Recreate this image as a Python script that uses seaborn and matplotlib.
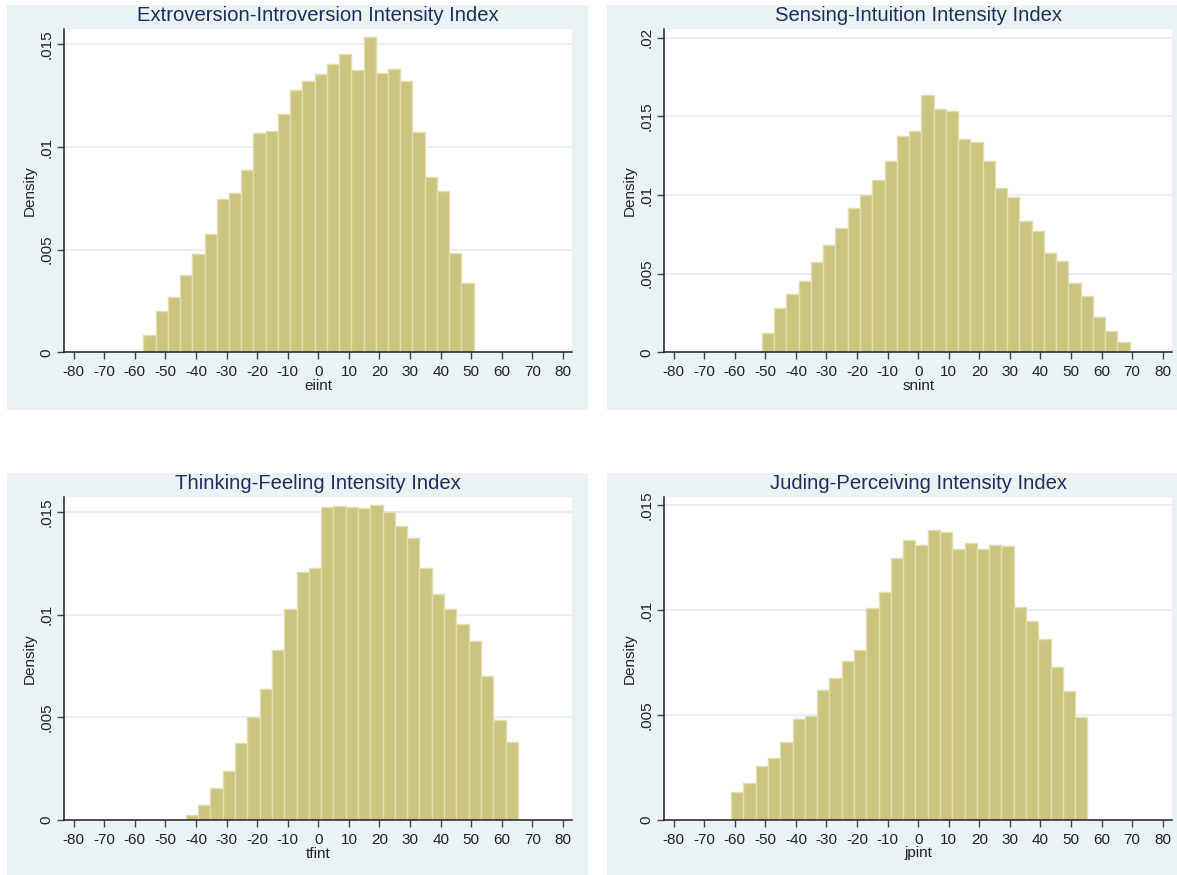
import numpy as np
import pandas as pd
import matplotlib
matplotlib.use("Agg")
import matplotlib.pyplot as plt
from matplotlib.patches import Rectangle
from matplotlib.ticker import FuncFormatter
import seaborn as sns

# panel titles / variable names
titles = ["Extroversion-Introversion Intensity Index",
          "Sensing-Intuition Intensity Index",
          "Thinking-Feeling Intensity Index",
          "Juding-Perceiving Intensity Index"]
var_names = ["eiint", "snint", "tfint", "jpint"]

# histogram bins (left edge of first bin, bin width)
bin_starts = [-57.2, -51.1, -43.3, -61.2]
bin_widths = [4.0, 4.01, 4.02, 4.02]

# density of each bin
ei_density = [0.00083, 0.00199, 0.0027, 0.00378, 0.00479, 0.00578, 0.00748,
              0.00775, 0.00889, 0.0107, 0.0108, 0.01163, 0.01277, 0.01319,
              0.01355, 0.01402, 0.01451, 0.01373, 0.01537, 0.0136, 0.0138,
              0.01321, 0.01073, 0.00855, 0.00785, 0.00484, 0.00337]
sn_density = [0.00125, 0.00282, 0.00373, 0.00456, 0.00577, 0.00685, 0.00789,
              0.00917, 0.01, 0.01097, 0.01215, 0.01374, 0.01409, 0.01637,
              0.01547, 0.01536, 0.01356, 0.01339, 0.01215, 0.01043, 0.00989,
              0.00834, 0.00768, 0.00634, 0.00583, 0.0044, 0.00355, 0.00227,
              0.00138, 0.00066]
tf_density = [0.00023, 0.00072, 0.00158, 0.00239, 0.00374, 0.00502, 0.0064,
              0.00827, 0.01029, 0.0121, 0.01228, 0.01527, 0.01532, 0.01527,
              0.01521, 0.01536, 0.01501, 0.01432, 0.01376, 0.0123, 0.01103,
              0.0103, 0.00954, 0.00873, 0.00704, 0.00486, 0.0038]
jp_density = [0.00135, 0.00178, 0.00259, 0.00297, 0.00372, 0.00481, 0.00496,
              0.0062, 0.00677, 0.00758, 0.00809, 0.01012, 0.01085, 0.0125,
              0.01333, 0.01312, 0.01381, 0.01373, 0.01292, 0.0132, 0.01292,
              0.01309, 0.01304, 0.01015, 0.0095, 0.00864, 0.00731, 0.00616,
              0.00491]
densities = [ei_density, sn_density, tf_density, jp_density]

x_ticks = list(range(-80, 81, 10))
y_ticks = [[0, .005, .01, .015],
           [0, .005, .01, .015, .02],
           [0, .005, .01, .015],
           [0, .005, .01, .015]]
y_tops = [0.01576, 0.02053, 0.01576, 0.01541]

BG = "#EAF2F3"
BAR = "#CBC47F"
BAR_EDGE = "#E2DDAE"
TITLE_COLOR = "#1E2F5C"
W, H = 1177, 875

sns.set_style("white")
plt.rcParams["font.family"] = ["Liberation Sans", "DejaVu Sans"]
plt.rcParams["axes.unicode_minus"] = False

fig = plt.figure(figsize=(W / 100, H / 100), dpi=100, facecolor="white")

# outer (graph region) boxes, in pixels: x0, y0, x1, y1
outer_boxes = [(6.7, 4.7, 587.5, 410), (606.7, 4.7, 1177, 410),
               (6.7, 472.7, 587.5, 874.5), (606.7, 472.7, 1177, 874.5)]
# plot regions, in pixels: x0, y0, x1, y1
plot_boxes = [(64.3, 28.7, 572.3, 352.3), (664.3, 29.3, 1172, 352.3),
              (64.3, 496.7, 572.3, 820), (664.3, 496.7, 1172, 820)]

def ytick_fmt(v, pos):
    if v == 0:
        return "0"
    return f"{v:.3f}".rstrip("0").lstrip("0")

for i in range(4):
    x0, y0, x1, y1 = outer_boxes[i]
    fig.patches.append(Rectangle((x0 / W, 1 - y1 / H), (x1 - x0) / W, (y1 - y0) / H,
                                 transform=fig.transFigure, facecolor=BG,
                                 edgecolor="none", zorder=-10))

    px0, py0, px1, py1 = plot_boxes[i]
    ax = fig.add_axes([px0 / W, 1 - py1 / H, (px1 - px0) / W, (py1 - py0) / H])
    ax.set_facecolor("white")

    dens = densities[i]
    edges = [bin_starts[i] + bin_widths[i] * k for k in range(len(dens) + 1)]
    centers = [(edges[k] + edges[k + 1]) / 2 for k in range(len(dens))]
    df = pd.DataFrame({"x": centers, "density": dens})
    sns.histplot(data=df, x="x", weights="density", bins=edges, stat="count",
                 color=BAR, edgecolor=BAR_EDGE, linewidth=1, alpha=1, ax=ax)

    ax.set_xlim(-83.05, 83.05)
    ax.set_ylim(0, y_tops[i])
    ax.set_xticks(x_ticks)
    ax.set_yticks(y_ticks[i])
    ax.yaxis.set_major_formatter(FuncFormatter(ytick_fmt))
    ax.yaxis.grid(True, color="#E4EEF0", linewidth=1.2)
    ax.xaxis.grid(False)
    ax.set_axisbelow(True)

    for side in ["top", "right"]:
        ax.spines[side].set_visible(False)
    for side in ["left", "bottom"]:
        ax.spines[side].set_color("#222222")
        ax.spines[side].set_linewidth(1.1)

    ax.tick_params(axis="both", direction="out", length=5, width=1,
                   color="#444444", labelsize=11, labelcolor="#222222",
                   left=True, bottom=True)
    ax.tick_params(axis="x", pad=4)
    ax.tick_params(axis="y", pad=3)
    for lab in ax.get_yticklabels():
        lab.set_rotation(90)
        lab.set_va("center")

    ax.set_xlabel(var_names[i], fontsize=11, color="#222222", labelpad=0)
    ax.set_ylabel("Density", fontsize=11, color="#222222", labelpad=2)

    title_off = (py0 - (y0 + 11)) / (py1 - py0)
    ax.text(0.5, 1 + title_off, titles[i], transform=ax.transAxes,
            ha="center", va="center", fontsize=14.6, color=TITLE_COLOR)

fig.savefig("out.png", dpi=100, facecolor="white")
